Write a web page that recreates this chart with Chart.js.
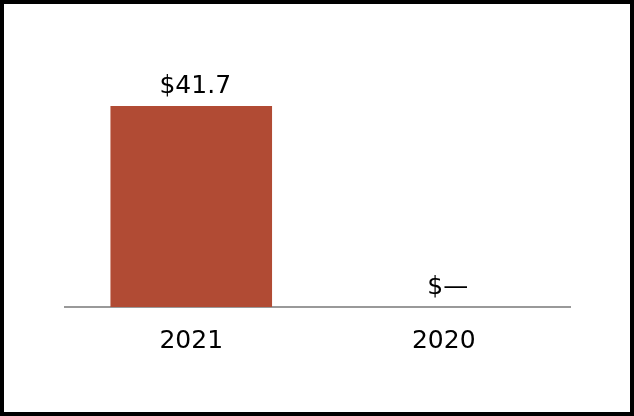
<!DOCTYPE html>
<html>
<head>
<meta charset="utf-8">
<script src="https://cdn.jsdelivr.net/npm/chart.js@4"></script>
<style>
  html, body { margin: 0; padding: 0; background: #fff; }
  #frame {
    width: 634px; height: 416px; box-sizing: border-box;
    border: 4px solid #000; background: #fff;
  }
  #chart { display: block; }
</style>
</head>
<body>
<div id="frame"><canvas id="chart" width="626" height="408"></canvas></div>
<script>
// ── Data ── //
const years = ['2021', '2020'];
const amounts = [41.7, 0];
const amountLabels = ['$41.7', '$\u2014'];

const FONT = 'DejaVu Sans';

// ── Value labels above bars ── //
const valueLabels = {
  id: 'valueLabels',
  afterDatasetsDraw(chart) {
    const { ctx } = chart;
    const meta = chart.getDatasetMeta(0);
    ctx.save();
    ctx.font = `25px "${FONT}"`;
    ctx.fillStyle = '#000';
    ctx.textAlign = 'center';
    ctx.textBaseline = 'middle';
    meta.data.forEach((bar, i) => {
      ctx.fillText(amountLabels[i], bar.x + 4, bar.y - 19.5);
    });
    ctx.restore();
  }
};

new Chart(document.getElementById('chart'), {
  type: 'bar',
  data: {
    labels: years,
    datasets: [{
      data: amounts,
      backgroundColor: '#B14B34',
      borderWidth: 0,
      barPercentage: 0.64,
      categoryPercentage: 1,
    }],
  },
  options: {
    responsive: false,
    animation: false,
    layout: { padding: { left: 61, right: 60, top: 62, bottom: 0 } },
    scales: {
      x: {
        grid: { display: false, drawTicks: false },
        border: { display: true, color: '#999', width: 2 },
        ticks: {
          color: '#000',
          padding: 19,
          font: { family: FONT, size: 25 },
        },
        afterFit: (scale) => { scale.height = 105; },
      },
      y: {
        display: false,
        min: 0,
        max: 50,
      },
    },
    plugins: {
      legend: { display: false },
      tooltip: { enabled: false },
    },
  },
  plugins: [valueLabels],
});
</script>
</body>
</html>
